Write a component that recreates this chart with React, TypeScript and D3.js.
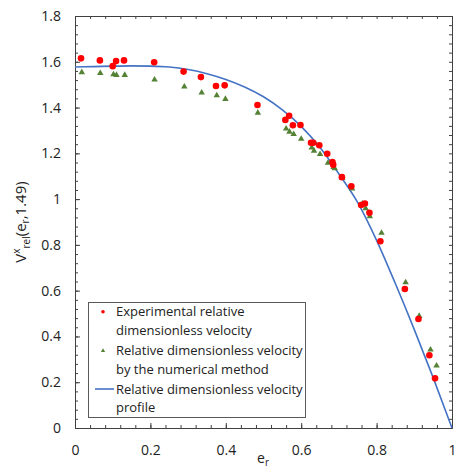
import React, { useEffect, useRef } from 'react';
import * as d3 from 'd3';

// experimental points (red)
const expX = [0.016, 0.066, 0.100, 0.109, 0.130, 0.210, 0.288, 0.334, 0.374, 0.397, 0.484, 0.558, 0.568, 0.578, 0.598, 0.626, 0.632, 0.648, 0.669, 0.683, 0.685, 0.708, 0.733, 0.759, 0.769, 0.781, 0.810, 0.875, 0.911, 0.940, 0.955];
const expY = [1.615, 1.606, 1.581, 1.603, 1.606, 1.598, 1.557, 1.533, 1.494, 1.497, 1.411, 1.346, 1.364, 1.323, 1.324, 1.246, 1.246, 1.235, 1.198, 1.162, 1.150, 1.096, 1.056, 0.974, 0.981, 0.940, 0.816, 0.607, 0.476, 0.318, 0.217];

// numerical method points (green)
const numX = [0.018, 0.067, 0.102, 0.110, 0.132, 0.211, 0.290, 0.336, 0.376, 0.399, 0.485, 0.560, 0.569, 0.580, 0.600, 0.628, 0.634, 0.650, 0.671, 0.686, 0.689, 0.709, 0.735, 0.762, 0.771, 0.782, 0.813, 0.877, 0.913, 0.943, 0.959];
const numY = [1.554, 1.550, 1.545, 1.542, 1.542, 1.522, 1.491, 1.465, 1.453, 1.437, 1.377, 1.308, 1.294, 1.284, 1.263, 1.225, 1.211, 1.196, 1.158, 1.140, 1.134, 1.092, 1.046, 0.980, 0.959, 0.925, 0.852, 0.636, 0.489, 0.342, 0.272];

// velocity profile (blue line)
const profX = [0, 0.05, 0.1, 0.15, 0.2, 0.25, 0.3, 0.35, 0.4, 0.45, 0.5, 0.55, 0.6, 0.65, 0.7, 0.75, 0.8, 0.85, 0.9, 0.95, 1.0];
const profY = [1.577, 1.579, 1.581, 1.582, 1.581, 1.577, 1.566, 1.548, 1.523, 1.490, 1.447, 1.390, 1.318, 1.225, 1.110, 0.985, 0.820, 0.630, 0.430, 0.220, 0];

const xTicks = [0, 0.2, 0.4, 0.6, 0.8, 1];
const xTickLabels = ['0', '0.2', '0.4', '0.6', '0.8', '1'];
const yTicks = [0, 0.2, 0.4, 0.6, 0.8, 1, 1.2, 1.4, 1.6, 1.8];
const yTickLabels = ['0', '0.2', '0.4', '0.6', '0.8', '1', '1.2', '1.4', '1.6', '1.8'];

const legendLabels = [
  ['Experimental relative', 'dimensionless velocity'],
  ['Relative dimensionless velocity', 'by the numerical method'],
  ['Relative dimensionless velocity', 'profile'],
];

const font = 'Open Sans, Liberation Sans, sans-serif';
const axisColor = '#404040';

const App = () => {
  const ref = useRef<SVGSVGElement>(null);

  useEffect(() => {
    const svg = d3.select(ref.current);
    svg.selectAll('*').remove();

    const x = d3.scaleLinear().domain([0, 1]).range([75, 452]);
    const y = d3.scaleLinear().domain([0, 1.8]).range([428, 16]);

    const minorX = d3.range(0, 51).map(i => i * 0.04).filter(v => v <= 1.0001);
    const minorY = d3.range(0, 46).map(i => i * 0.04).filter(v => v <= 1.8001);

    const styleAxis = (g) => {
      g.select('.domain').attr('stroke', axisColor);
      g.selectAll('.tick line').attr('stroke', axisColor);
      g.selectAll('text').attr('font-family', font).attr('font-size', 14).attr('fill', '#222');
    };

    // bottom
    svg.append('g').attr('transform', 'translate(0,428)')
      .call(d3.axisBottom(x).tickValues(minorX).tickSize(-3).tickFormat(() => '').tickSizeOuter(0)).call(styleAxis);
    svg.append('g').attr('transform', 'translate(0,428)')
      .call(d3.axisBottom(x).tickValues(xTicks).tickSize(-5).tickPadding(17).tickSizeOuter(0)
        .tickFormat((_, i) => xTickLabels[i])).call(styleAxis);
    // top
    svg.append('g').attr('transform', 'translate(0,16)')
      .call(d3.axisTop(x).tickValues(minorX).tickSize(-3).tickFormat(() => '').tickSizeOuter(0)).call(styleAxis);
    // left
    svg.append('g').attr('transform', 'translate(75,0)')
      .call(d3.axisLeft(y).tickValues(minorY).tickSize(-3).tickFormat(() => '').tickSizeOuter(0)).call(styleAxis);
    svg.append('g').attr('transform', 'translate(75,0)')
      .call(d3.axisLeft(y).tickValues(yTicks).tickSize(-5).tickPadding(14).tickSizeOuter(0)
        .tickFormat((_, i) => yTickLabels[i])).call(styleAxis);
    // right
    svg.append('g').attr('transform', 'translate(452,0)')
      .call(d3.axisRight(y).tickValues(minorY).tickSize(-3).tickFormat(() => '').tickSizeOuter(0)).call(styleAxis);

    // profile line
    const line = d3.line<number>().x((d, i) => x(profX[i])).y(d => y(d)).curve(d3.curveMonotoneX);
    svg.append('path').datum(profY).attr('d', line).attr('fill', 'none')
      .attr('stroke', '#4472c4').attr('stroke-width', 1.6);

    // numerical triangles
    const tri = d3.symbol().type(d3.symbolTriangle).size(18);
    svg.append('g').selectAll('path').data(numY).join('path')
      .attr('d', tri).attr('fill', '#548235')
      .attr('transform', (d, i) => `translate(${x(numX[i])},${y(d)})`);

    // experimental dots
    svg.append('g').selectAll('circle').data(expY).join('circle')
      .attr('cx', (d, i) => x(expX[i])).attr('cy', d => y(d)).attr('r', 3.3).attr('fill', '#ff0000');

    // legend
    const lg = svg.append('g');
    lg.append('rect').attr('x', 88.5).attr('y', 302.5).attr('width', 217).attr('height', 115)
      .attr('fill', 'white').attr('stroke', '#595959').attr('stroke-width', 1);
    const rowY = [311.7, 350.8, 389];
    legendLabels.forEach((lines, k) => {
      lines.forEach((t, j) => {
        lg.append('text').attr('x', 116).attr('y', rowY[k] + j * 18.5).attr('dy', '0.35em')
          .attr('font-family', font).attr('font-size', 13).attr('fill', '#222').text(t);
      });
    });
    lg.append('circle').attr('cx', 103).attr('cy', rowY[0]).attr('r', 1.8).attr('fill', '#ff0000');
    lg.append('path').attr('d', d3.symbol().type(d3.symbolTriangle).size(8))
      .attr('transform', `translate(103,${rowY[1]})`).attr('fill', '#548235');
    lg.append('line').attr('x1', 95).attr('x2', 114).attr('y1', rowY[2]).attr('y2', rowY[2])
      .attr('stroke', '#4472c4').attr('stroke-width', 1.6);

    // x label
    const xl = svg.append('text').attr('x', 263).attr('y', 463).attr('text-anchor', 'middle')
      .attr('font-family', font).attr('font-size', 14).attr('fill', '#222');
    xl.append('tspan').text('e');
    xl.append('tspan').attr('font-size', 10).attr('dy', 3).text('r');

    // y label
    const yl = svg.append('text').attr('transform', 'translate(26,222) rotate(-90)').attr('text-anchor', 'middle')
      .attr('font-family', font).attr('font-size', 15).attr('fill', '#222');
    yl.append('tspan').text('V');
    yl.append('tspan').attr('font-size', 10).attr('dy', -6).text('x');
    yl.append('tspan').attr('font-size', 10).attr('dy', 10).text('rel');
    yl.append('tspan').attr('dy', -4).text('(e');
    yl.append('tspan').attr('font-size', 10).attr('dy', 3).text('r');
    yl.append('tspan').attr('dy', -3).text(',1.49)');
  }, []);

  return (
    <svg ref={ref} width={454} height={468} style={{ position: 'absolute', left: 0, top: 0 }} />
  );
};

export default App;
